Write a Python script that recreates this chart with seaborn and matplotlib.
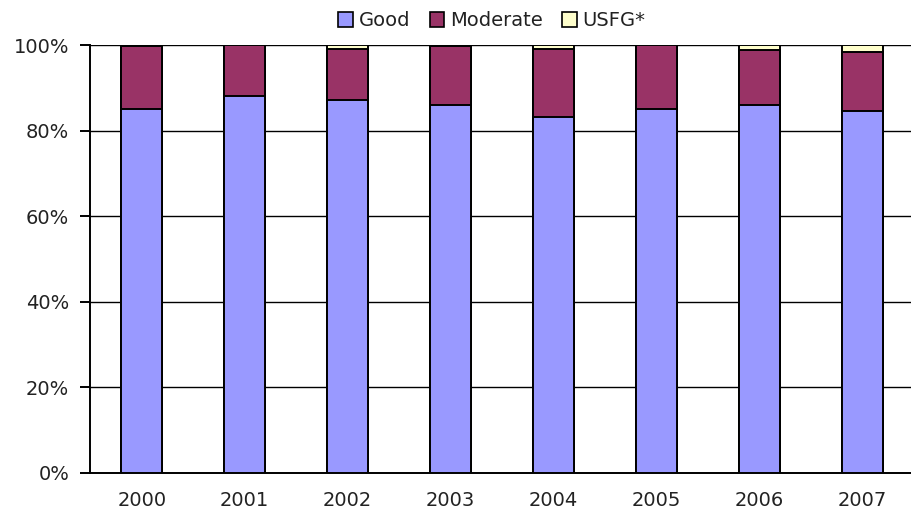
import seaborn as sns
import pandas as pd
import matplotlib.pyplot as plt
from matplotlib.patches import Patch
from matplotlib.ticker import FixedLocator, PercentFormatter

years = ["2000", "2001", "2002", "2003", "2004", "2005", "2006", "2007"]
good = [85.0, 88.1, 87.1, 86.1, 83.1, 85.0, 86.0, 84.6]
moderate = [14.8, 11.9, 12.0, 13.6, 16.0, 15.0, 12.8, 13.8]
usfg = [0.2, 0.0, 0.9, 0.3, 0.9, 0.0, 1.2, 1.6]

colors = {"Good": "#9999FF", "Moderate": "#993366", "USFG*": "#FFFFCC"}

df = pd.DataFrame({"year": years, "Good": good, "Moderate": moderate, "USFG*": usfg})
df["top_mod"] = df["Good"] + df["Moderate"]
df["top_usfg"] = df["top_mod"] + df["USFG*"]

sns.set_style("white")
plt.rcParams["font.family"] = ["DejaVu Sans"]

fig = plt.figure(figsize=(9.11, 5.18), dpi=100)
ax = fig.add_axes([0.099, 0.087, 0.9045, 0.826])

# stacked look: draw cumulative totals from the top down
for col, name in [("top_usfg", "USFG*"), ("top_mod", "Moderate"), ("Good", "Good")]:
    sns.barplot(data=df, x="year", y=col, color=colors[name], width=0.4,
                edgecolor="black", linewidth=1.4, saturation=1, ax=ax, zorder=3)

ax.set_xlim(-0.5, 7.5)
ax.set_ylim(0, 100)
ax.set_yticks(range(0, 101, 20))
ax.yaxis.set_major_formatter(PercentFormatter(decimals=0))
ax.yaxis.grid(True, color="black", linewidth=1)
ax.set_axisbelow(True)
ax.set_xlabel("")
ax.set_ylabel("")

for s in ["top", "right"]:
    ax.spines[s].set_visible(False)
for s in ["left", "bottom"]:
    ax.spines[s].set_color("black")
    ax.spines[s].set_linewidth(1.4)

ax.xaxis.set_minor_locator(FixedLocator([i - 0.5 for i in range(9)]))
ax.tick_params(axis="x", which="major", length=0, pad=13, labelsize=14, colors="#222222")
ax.tick_params(axis="x", which="minor", length=7, width=1.4, color="black", direction="out")
ax.tick_params(axis="y", length=7, width=1.4, color="black", direction="out", pad=8,
               labelsize=14, labelcolor="#222222", left=True)

handles = [Patch(facecolor=colors[n], edgecolor="black", linewidth=1.2, label=n)
           for n in ["Good", "Moderate", "USFG*"]]
fig.legend(handles=handles, loc="center", bbox_to_anchor=(0.54, 0.96), ncol=3,
           frameon=False, fontsize=14, handlelength=0.75, handleheight=0.75,
           handletextpad=0.3, columnspacing=1.0, labelcolor="#222222")

fig.savefig("out.png", dpi=100)
